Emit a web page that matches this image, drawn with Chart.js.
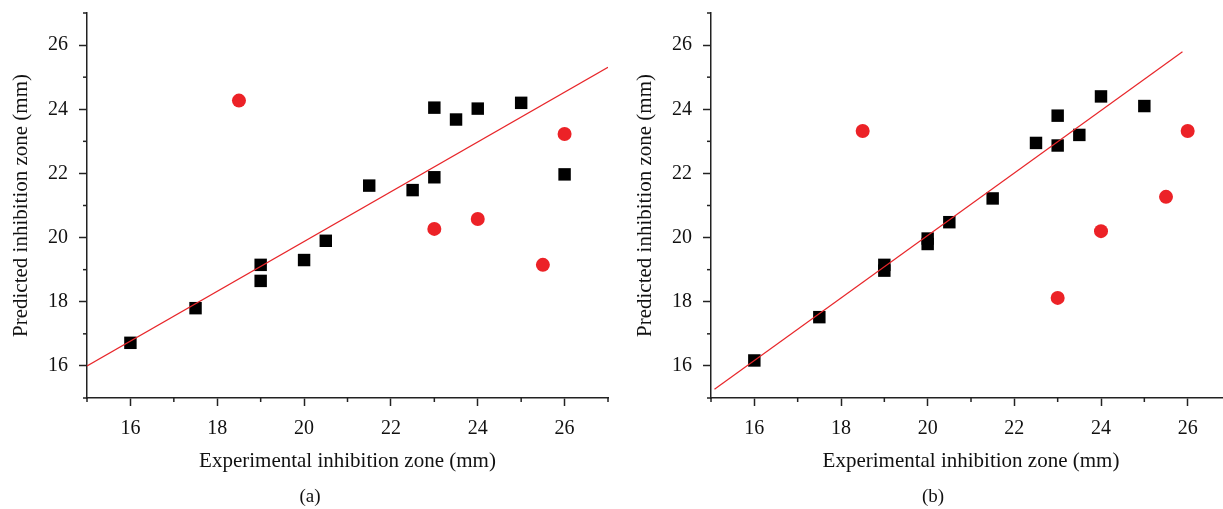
<!DOCTYPE html>
<html>
<head>
<meta charset="utf-8">
<script src="https://cdn.jsdelivr.net/npm/chart.js@4.4.0/dist/chart.umd.min.js"></script>
<style>
  html, body { margin:0; padding:0; background:#fff; width:1223px; height:509px; overflow:hidden; }
  #wrap { position:relative; width:1223px; height:509px; overflow:hidden; }
  canvas { position:absolute; top:0; }
  #ca { left:0; }
  #cb { left:620px; }
  .cap { position:absolute; top:485px; font-family:'Liberation Serif', serif; font-size:19px; line-height:22px; color:#111; transform:translateX(-50%); }
</style>
</head>
<body>
<div id="wrap">
  <canvas id="ca" width="620" height="509"></canvas>
  <canvas id="cb" width="625" height="509"></canvas>
  <div class="cap" style="left:310px">(a)</div>
  <div class="cap" style="left:933px">(b)</div>
</div>
<script>
// ---- Data (a) ----
const aTrainX = [16, 17.5, 19, 19, 20, 20.5, 21.5, 22.5, 23, 23, 23.5, 24, 25, 26];
const aTrainY = [16.72, 17.8, 19.15, 18.65, 19.3, 19.9, 21.62, 21.48, 24.05, 21.88, 23.68, 24.02, 24.2, 21.97];
const aTestX  = [18.5, 23, 24, 25.5, 26];
const aTestY  = [24.27, 20.27, 20.58, 19.15, 23.23];
const aLineX  = [15, 27];
const aLineY  = [16.0, 25.31];
// ---- Data (b) ----
const bTrainX = [16, 17.5, 19, 19, 20, 20, 20.5, 21.5, 22.5, 23, 23, 23.5, 24, 25];
const bTrainY = [16.17, 17.52, 19.15, 18.97, 19.97, 19.8, 20.48, 21.22, 22.95, 23.8, 22.87, 23.2, 24.4, 24.1];
const bTestX  = [18.5, 23, 24, 25.5, 26];
const bTestY  = [23.32, 18.12, 20.2, 21.27, 23.32];
const bLineX  = [15.08, 25.88];
const bLineY  = [15.27, 25.79];
// ---- Axes ----
const axisMin = 15, axisMax = 27;
const xTitle = 'Experimental inhibition zone (mm)';
const yTitle = 'Predicted inhibition zone (mm)';

const zip = (xs, ys) => xs.map((x, i) => ({x: x, y: ys[i]}));
const FONT = "'Liberation Serif', serif";
const AX = '#222';

const minorTicks = {
  id: 'minorTicks',
  afterDraw(chart) {
    const ctx = chart.ctx;
    ctx.save();
    ctx.strokeStyle = AX;
    ctx.lineWidth = 1.5;
    const xs = chart.scales.x, ys = chart.scales.y;
    for (let v = axisMin; v <= axisMax; v++) {
      if (v % 2 === 0) continue;
      const px = xs.getPixelForValue(v);
      ctx.beginPath(); ctx.moveTo(px, xs.top); ctx.lineTo(px, xs.top + 4); ctx.stroke();
      const py = ys.getPixelForValue(v);
      ctx.beginPath(); ctx.moveTo(ys.right, py); ctx.lineTo(ys.right - 4, py); ctx.stroke();
    }
    ctx.restore();
  }
};

function makeChart(id, trX, trY, teX, teY, lx, ly, yW, padR, yTitlePad) {
  return new Chart(document.getElementById(id), {
    type: 'scatter',
    data: {
      datasets: [
        { data: zip(lx, ly), showLine: true, borderColor: '#e8262a', borderWidth: 1.2, pointRadius: 0, fill: false },
        { data: zip(trX, trY), pointStyle: 'rect', pointRadius: 8.8, backgroundColor: '#000', borderColor: '#000', borderWidth: 0 },
        { data: zip(teX, teY), pointStyle: 'circle', pointRadius: 7, backgroundColor: '#ec2227', borderColor: '#ec2227', borderWidth: 0 }
      ]
    },
    options: {
      responsive: false,
      animation: false,
      events: [],
      layout: { padding: { left: 0, right: padR, top: 13, bottom: 0 } },
      plugins: { legend: { display: false }, tooltip: { enabled: false }, title: { display: false } },
      scales: {
        x: {
          type: 'linear', min: axisMin, max: axisMax,
          afterFit: s => { s.height = 111; s.paddingLeft = 0; s.paddingRight = 0; },
          border: { display: true, color: AX, width: 1.5 },
          grid: { drawOnChartArea: false, drawTicks: true, tickLength: 8, tickWidth: 1.5,
                  tickColor: c => (c.tick && c.tick.value % 2 === 0) ? AX : 'rgba(0,0,0,0)' },
          ticks: { stepSize: 1, autoSkip: false, maxRotation: 0, padding: 11, color: '#111',
                   font: { family: FONT, size: 20 },
                   callback: v => (v % 2 === 0 ? v : '') },
          title: { display: true, text: xTitle, color: '#111', font: { family: FONT, size: 21 },
                   padding: { top: 0, bottom: 35 } }
        },
        y: {
          type: 'linear', min: axisMin, max: axisMax,
          afterFit: s => { s.width = yW; s.paddingTop = 0; s.paddingBottom = 0; },
          border: { display: true, color: AX, width: 1.5 },
          grid: { drawOnChartArea: false, drawTicks: true, tickLength: 8, tickWidth: 1.5,
                  tickColor: c => (c.tick && c.tick.value % 2 === 0) ? AX : 'rgba(0,0,0,0)' },
          ticks: { stepSize: 1, autoSkip: false, padding: 11, color: '#111',
                   font: { family: FONT, size: 20 },
                   callback: v => (v % 2 === 0 ? v : '') },
          title: { display: true, text: yTitle, color: '#111', font: { family: FONT, size: 21 },
                   padding: { top: yTitlePad, bottom: 0 } }
        }
      }
    },
    plugins: [minorTicks]
  });
}

makeChart('ca', aTrainX, aTrainY, aTestX, aTestY, aLineX, aLineY, 87, 12, 9);
makeChart('cb', bTrainX, bTrainY, bTestX, bTestY, bLineX, bLineY, 91, 14, 13);
</script>
</body>
</html>
